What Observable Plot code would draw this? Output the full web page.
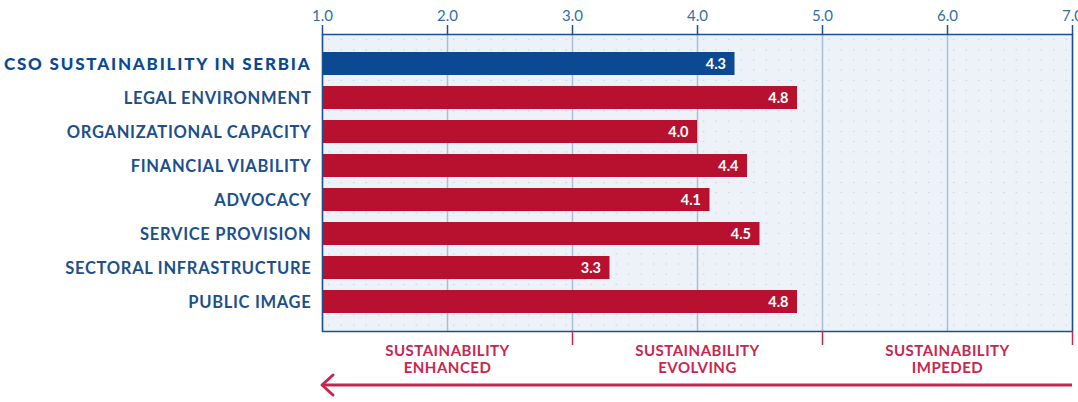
<!DOCTYPE html>
<html><head><meta charset="utf-8">
<script src="https://cdn.jsdelivr.net/npm/d3@7"></script>
<script src="https://cdn.jsdelivr.net/npm/@observablehq/plot@0.6"></script>
<style>
body{margin:0;background:#fff;}
#chart svg{display:block;overflow:visible;}
</style>
</head><body>
<svg width="0" height="0" style="position:absolute">
  <defs>
    <pattern id="dots" patternUnits="userSpaceOnUse" x="322" y="34" width="12.5" height="10.2">
      <rect width="12.5" height="10.2" fill="#edf2f9"></rect>
      <circle cx="6.25" cy="5.1" r="0.75" fill="#c3cfde"></circle>
    </pattern>
  </defs>
</svg>
<div id="chart"></div>
<script>
const categories = ["CSO SUSTAINABILITY IN SERBIA","LEGAL ENVIRONMENT","ORGANIZATIONAL CAPACITY","FINANCIAL VIABILITY","ADVOCACY","SERVICE PROVISION","SECTORAL INFRASTRUCTURE","PUBLIC IMAGE"];
const values = [4.3, 4.8, 4.0, 4.4, 4.1, 4.5, 3.3, 4.8];
const xTicks = [1, 2, 3, 4, 5, 6, 7];
const zoneLabels = ["SUSTAINABILITY\nENHANCED", "SUSTAINABILITY\nEVOLVING", "SUSTAINABILITY\nIMPEDED"];
const zoneStarts = [1, 3, 5];
const zoneEnds = [3, 5, 7];

const data = categories.map((c, i) => ({cat: c, value: values[i], overall: i === 0}));
const zones = zoneLabels.map((l, i) => ({label: l, start: zoneStarts[i], end: zoneEnds[i], mid: (zoneStarts[i] + zoneEnds[i]) / 2}));

const FONT = "Lato, 'Open Sans', sans-serif";
const BLUE = "#0b4a92", RED = "#b8102f", LABEL = "#1c4f8c", PINK = "#c8264f", TICK = "#2f6ea6";

const arrowMark = (index, scales, values, dims) => {
  const g = d3.create("svg:g");
  const y = dims.height - 17;
  const xl = scales.x(1), xr = scales.x(7);
  g.append("line").attr("x1", xr).attr("x2", xl + 1).attr("y1", y).attr("y2", y)
    .attr("stroke", PINK).attr("stroke-width", 3);
  g.append("path").attr("d", `M${xl + 11},${y - 10}L${xl},${y}L${xl + 11},${y + 10}`)
    .attr("fill", "none").attr("stroke", PINK).attr("stroke-width", 3).attr("stroke-linecap", "round").attr("stroke-linejoin", "round");
  return g.node();
};

const spaced = (ls) => (index, scales, values, dims, context, next) => {
  const g = next(index, scales, values, dims, context);
  d3.select(g).selectAll("text").style("letter-spacing", ls);
  return g;
};

const chart = Plot.plot({
  width: 1078,
  height: 402,
  marginLeft: 322,
  marginRight: 6,
  marginTop: 34,
  marginBottom: 71,
  style: {fontFamily: FONT, background: "#fff", overflow: "visible"},
  x: {domain: [1, 7]},
  y: {domain: categories, paddingInner: 0.33, paddingOuter: 0.46, axis: null},
  marks: [
    Plot.frame({fill: "url(#dots)"}),
    Plot.gridX(xTicks, {stroke: "#a8bfd6", strokeOpacity: 1, strokeWidth: 1.5}),
    Plot.barX(data, {x1: 1, x2: "value", y: "cat", fill: d => d.overall ? BLUE : RED}),
    Plot.text(data, {x: "value", y: "cat", text: d => d.value.toFixed(1), textAnchor: "end", dx: -9, fill: "white", fontWeight: 700, fontSize: 14.5}),
    Plot.text(data.filter(d => d.overall), {x: 1, y: "cat", text: "cat", textAnchor: "end", dx: -11, dy: 1, fill: BLUE, fontWeight: 900, fontSize: 17, render: spaced("1.8px")}),
    Plot.text(data.filter(d => !d.overall), {x: 1, y: "cat", text: "cat", textAnchor: "end", dx: -11, dy: 1, fill: LABEL, fontWeight: 700, fontSize: 16.5, render: spaced("0.7px")}),
    Plot.frame({stroke: "#1d4f8a", strokeWidth: 1.5}),
    Plot.axisX(xTicks, {anchor: "top", tickFormat: d3.format(".1f"), tickSize: 10, tickPadding: 4, fontSize: 15, color: TICK, stroke: "#1d4f8a", strokeWidth: 1.5, label: null}),
    Plot.axisX(zoneEnds, {anchor: "bottom", tickFormat: () => "", tickSize: 14, stroke: PINK, strokeWidth: 1.5, label: null}),
    Plot.text(zones, {x: "mid", text: "label", frameAnchor: "bottom", lineAnchor: "top", dy: 12, lineHeight: 1.15, fill: PINK, fontWeight: 700, fontSize: 15, render: spaced("0.5px")}),
    arrowMark
  ]
});
document.getElementById("chart").append(chart);
</script>
</body></html>
